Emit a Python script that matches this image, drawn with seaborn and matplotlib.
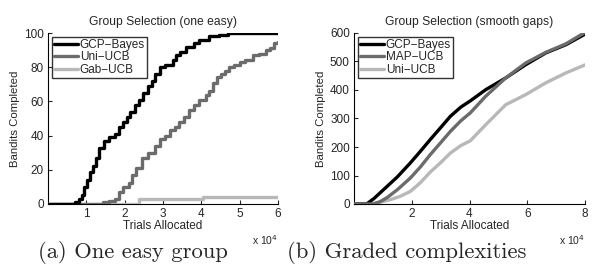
import numpy as np
import pandas as pd
import matplotlib
matplotlib.use("Agg")
import matplotlib.pyplot as plt
import seaborn as sns

# ---- data (x in units of 1e4 trials) ----
# (a) one easy group
a_gcp_x = [0, 0.62, 0.70, 0.80, 0.88, 0.95, 1.02, 1.10, 1.18, 1.25, 1.32, 1.45, 1.60, 1.75, 1.85, 1.95,
           2.05, 2.15, 2.27, 2.37, 2.47, 2.60, 2.70, 2.80, 2.92, 3.05, 3.25, 3.35, 3.45, 3.60, 3.80, 3.95,
           4.20, 4.45, 4.70, 6.0]
a_gcp_y = [0, 0, 1, 3, 5, 10, 14, 19, 22, 27, 33, 37, 39, 41, 45, 48,
           51, 54, 58, 61, 65, 69, 72, 76, 80, 81, 84, 87, 89, 92, 94, 96,
           98, 99, 100, 100]
a_uni_x = [0, 1.44, 1.60, 1.75, 1.85, 1.95, 2.10, 2.20, 2.30, 2.44, 2.60, 2.72, 2.80, 2.92, 3.05, 3.17,
           3.30, 3.43, 3.55, 3.69, 3.82, 3.95, 4.12, 4.20, 4.30, 4.40, 4.50, 4.62, 4.73, 4.85, 5.00,
           5.15, 5.34, 5.50, 5.69, 5.80, 5.90, 6.0]
a_uni_y = [0, 1, 2, 3, 7, 10, 12, 17, 21, 27, 30, 30, 34, 38, 40, 43,
           45, 48, 51, 55, 58, 61, 64, 66, 71, 74, 76, 78, 80, 81, 83,
           84, 87, 88, 90, 91, 94, 95]
a_gab_x = [0, 2.30, 2.38, 4.05, 6.0]
a_gab_y = [0, 0, 3, 4, 4]

# (b) graded complexities
b_gcp_x = [0, 0.44, 0.70, 1.02, 1.50, 1.95, 2.30, 2.64, 3.00, 3.34, 3.70, 4.03, 4.56, 5.25, 5.95, 6.64, 7.34, 8.0]
b_gcp_y = [0, 0, 20, 50, 95, 144, 185, 226, 268, 308, 340, 362, 401, 442, 489, 530, 559, 596]
b_map_x = [0, 0.67, 0.90, 1.14, 1.50, 1.95, 2.30, 2.64, 3.00, 3.34, 3.70, 4.03, 4.56, 5.25, 5.95, 6.64, 7.34, 8.0]
b_map_y = [0, 0, 8, 22, 50, 91, 130, 173, 215, 255, 292, 320, 378, 442, 495, 532, 562, 602]
b_uni_x = [0, 0.56, 0.90, 1.25, 1.60, 1.95, 2.30, 2.64, 3.00, 3.34, 3.70, 4.03, 4.56, 5.25, 5.95, 6.64, 7.34, 8.0]
b_uni_y = [0, 0, 6, 15, 27, 44, 75, 112, 145, 179, 205, 222, 278, 348, 384, 425, 460, 488]

BLACK, MID, LIGHT = "#000000", "#6b6b6b", "#b8b8b8"

sns.set_style("white")
plt.rcParams["font.family"] = ["Liberation Sans", "DejaVu Sans"]

fig = plt.figure(figsize=(5.95, 2.69), dpi=100)
ax1 = fig.add_axes([48 / 595, 65 / 269, 230 / 595, 171 / 269])
ax2 = fig.add_axes([354 / 595, 65 / 269, 231 / 595, 171 / 269])


def draw(ax, series, steps):
    for (xs, ys, name, col, z) in series:
        d = pd.DataFrame({"x": np.array(xs) * 1e4, "y": ys})
        kw = {"drawstyle": "steps-post"} if steps else {}
        sns.lineplot(data=d, x="x", y="y", ax=ax, color=col, lw=2.4, label=name,
                     zorder=z, **kw)


draw(ax1, [(a_gcp_x, a_gcp_y, "GCP\u2212Bayes", BLACK, 5),
           (a_uni_x, a_uni_y, "Uni\u2212UCB", MID, 4),
           (a_gab_x, a_gab_y, "Gab\u2212UCB", LIGHT, 3)], True)
draw(ax2, [(b_gcp_x, b_gcp_y, "GCP\u2212Bayes", BLACK, 4),
           (b_map_x, b_map_y, "MAP\u2212UCB", MID, 5),
           (b_uni_x, b_uni_y, "Uni\u2212UCB", LIGHT, 3)], False)

setup = [
    (ax1, 6, [1, 2, 3, 4, 5, 6], 100, [0, 20, 40, 60, 80, 100], "Group Selection (one easy)"),
    (ax2, 8, [2, 4, 6, 8], 600, [0, 100, 200, 300, 400, 500, 600], "Group Selection (smooth gaps)"),
]
for ax, xmax, xt, ymax, yt, title in setup:
    ax.set_xlim(0, xmax * 1e4)
    ax.set_ylim(0, ymax)
    ax.set_xticks([v * 1e4 for v in xt])
    ax.set_xticklabels([str(v) for v in xt])
    ax.set_yticks(yt)
    ax.set_yticklabels([str(v) for v in yt])
    ax.tick_params(direction="in", length=3, width=0.8, labelsize=8.5, pad=3,
                   bottom=True, left=True)
    for s in ["top", "right"]:
        ax.spines[s].set_visible(False)
    for s in ["left", "bottom"]:
        ax.spines[s].set_color("black")
        ax.spines[s].set_linewidth(0.8)
    ax.set_xlabel("Trials Allocated", fontsize=8.5, labelpad=0)
    ax.set_ylabel("Bandits Completed", fontsize=8.2, labelpad=3)
    ax.set_title(title, fontsize=8.7, pad=6)
    ax.text(1.0, -0.21, "x 10$^4$", transform=ax.transAxes, fontsize=7.5,
            ha="right", va="center")
    leg = ax.legend(loc="upper left", fontsize=8.5, frameon=True, fancybox=False,
                    handlelength=2.0, handletextpad=0.2, borderpad=0.2,
                    labelspacing=0.05, borderaxespad=0.3)
    leg.get_frame().set_edgecolor("black")
    leg.get_frame().set_linewidth(1.0)

fig.text(133 / 595, 17 / 269, "(a) One easy group", family="cmr10", fontsize=16.3,
         ha="center", va="center")
fig.text(407 / 595, 17 / 269, "(b) Graded complexities", family="cmr10", fontsize=16.3,
         ha="center", va="center")

fig.savefig("out.png", dpi=100)
